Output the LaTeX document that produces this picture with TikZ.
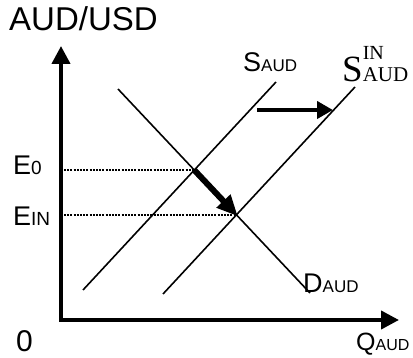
\documentclass[tikz,border=0pt]{standalone}
\usepackage{fontspec}
\setmainfont{Liberation Sans}
\newfontfamily\seriffam{Liberation Serif}
\usetikzlibrary{arrows.meta,intersections}
\newcommand\fsz[1]{\fontsize{#1}{#1}\selectfont}
\begin{document}
\begin{tikzpicture}[x=1pt,y=-1pt,
  curve/.style={line width=1.6pt},
  axisline/.style={line width=4pt, line join=miter},
  guide/.style={line width=2pt, dash pattern=on 2pt off 1.2pt},
  lbl/.style={inner sep=0pt, anchor=base west, text depth=0pt, font=\fsz{27}}]
\useasboundingbox (0,0) rectangle (413,358);
% axes
\coordinate (ytop) at (61,46);
\coordinate (orig) at (61,320);
\coordinate (xend) at (399,320);
\draw[axisline, {Triangle[length=18pt,width=18pt]}-{Triangle[length=18pt,width=18pt]}] (ytop) -- (orig) -- (xend);
% curves
\coordinate (d1) at (118,89);  \coordinate (d2) at (310,293);
\coordinate (s1) at (83,290);  \coordinate (s2) at (276,82);
\coordinate (n1) at (163,294); \coordinate (n2) at (355,87);
\draw[curve, name path=D] (d1) -- (d2);
\draw[curve, name path=S] (s1) -- (s2);
\draw[curve, name path=SN] (n1) -- (n2);
\path[name intersections={of=D and S, by=E0}];
\path[name intersections={of=D and SN, by=EIN}];
% guides
\draw[guide] (E0 -| orig) ++(3,0) -- (E0);
\draw[guide] (EIN -| orig) ++(3,0) -- (EIN);
% shift arrows
\draw[line width=6pt, -{Triangle[length=21pt,width=18pt]}, shorten >=-2pt] (E0) -- (EIN);
\coordinate (h1) at (257,110); \coordinate (h2) at (333,110);
\draw[line width=4pt, -{Triangle[length=16pt,width=17pt]}] (h1) -- (h2);
% labels
\node[lbl, font=\fsz{33}] (yl) at (9,31) {AUD/USD};
\node[lbl] (le0) at (13,175) {E{\fsz{19}0}};
\node[lbl] (lein) at (13,226) {E{\fsz{19}IN}};
\node[lbl] (ls) at (243,72) {S{\fsz{17}AUD}};
\node[lbl] (ld) at (303,293) {D{\fsz{17}AUD}};
\node[lbl, font=\fsz{25}] (lq) at (356,351) {Q{\fsz{16}AUD}};
\node[lbl, font=\fsz{30}] (l0) at (16,352) {0};
\node[lbl, font=\seriffam\fsz{37}] (lsn) at (342,82) {S\makebox[0pt][l]{\raisebox{22pt}{\fsz{20}IN}}{\fsz{21}AUD}};
\end{tikzpicture}
\end{document}
